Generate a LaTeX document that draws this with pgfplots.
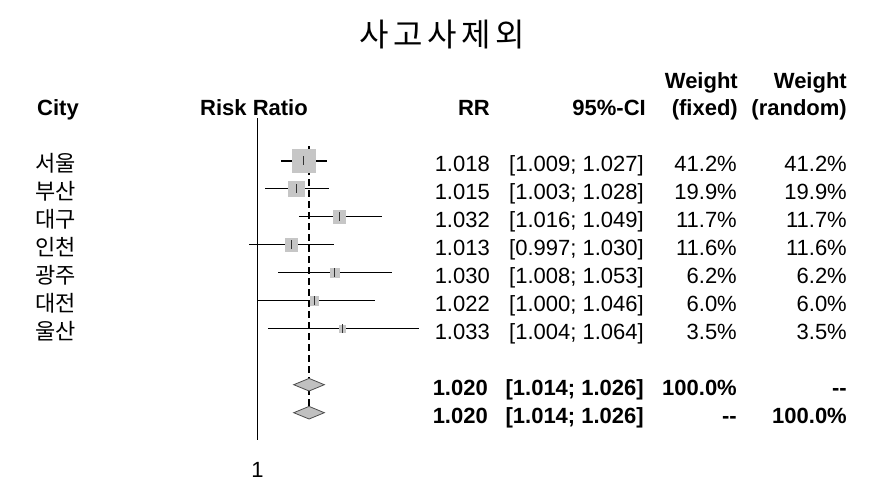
\documentclass[border=0pt]{standalone}
\usepackage{fontspec}
\setmainfont{Liberation Sans}
\newfontfamily\kr{Noto Sans CJK KR}
\newfontfamily\krtitle[LetterSpace=14]{Noto Sans CJK KR}
\usepackage{pgfplots}
\usepackage{pgfplotstable}
\pgfplotsset{compat=1.18}
\definecolor{boxgray}{HTML}{C6C6C6}
\definecolor{diafill}{HTML}{C0C0C0}
\definecolor{diadraw}{HTML}{4D4D4D}

% row, estimate, 95% CI, weight (%)
\pgfplotstableread{
row rr    lo    hi    w
1   1.018 1.009 1.027 41.2
2   1.015 1.003 1.028 19.9
3   1.032 1.016 1.049 11.7
4   1.013 0.997 1.030 11.6
5   1.030 1.008 1.053 6.2
6   1.022 1.000 1.046 6.0
7   1.033 1.004 1.064 3.5
}\studies

\newcommand\f{\fontsize{22}{26}\selectfont}

\begin{document}
\begin{tikzpicture}
\path[use as bounding box] (0pt,0pt) rectangle (870pt,-496pt);
\begin{axis}[
    at={(335pt,-279pt)}, anchor=center,
    scale only axis, width=190pt, height=322pt,
    xmode=log, xmin=0.993396, xmax=1.06838,
    y dir=reverse, ymin=-0.525, ymax=10.975,
    axis line style={draw=none},
    major tick length=0pt, minor tick length=0pt,
    xtick={1}, xticklabels={1}, ytick=\empty,
    xticklabel style={font=\f, yshift=-19pt},
    clip=false,
]
% study boxes, side ~ sqrt(weight)
\addplot[scatter, only marks, mark=square*,
    scatter/use mapped color={draw=boxgray, fill=boxgray},
    visualization depends on={\thisrow{w} \as \wt},
    scatter/@pre marker code/.append style={/tikz/mark size={1.79*sqrt(\wt)}}]
    table[x=rr, y=row] {\studies};

% confidence intervals
\addplot[black, line width=1.8pt] coordinates {(1.009,1)(1.027,1)};
\addplot[black, line width=1.2pt] coordinates {(1.003,2)(1.028,2)};
\addplot[black, line width=1.2pt] coordinates {(1.016,3)(1.049,3)};
\addplot[black, line width=1.2pt] coordinates {(0.997,4)(1.030,4)};
\addplot[black, line width=1.2pt] coordinates {(1.008,5)(1.053,5)};
\addplot[black, line width=1.2pt] coordinates {(1.000,6)(1.046,6)};
\addplot[black, line width=1.2pt] coordinates {(1.004,7)(1.064,7)};

% reference lines
\addplot[black, line width=1.5pt] coordinates {(1,-0.525)(1,10.975)};
\addplot[black, line width=1.5pt, dash pattern=on 7pt off 4pt]
    coordinates {(1.020,0.475)(1.020,10.23)};

% point estimates
\addplot[only marks, mark=|, mark size=4.5pt,
    mark options={line width=1.1pt, draw=black!80}]
    table[x=rr, y=row] {\studies};

% pooled estimates (fixed, random)
\addplot[fill=diafill, draw=diadraw, line width=0.8pt]
    coordinates {(1.014,9)(1.020,8.775)(1.026,9)(1.020,9.225)} -- cycle;
\addplot[fill=diafill, draw=diadraw, line width=0.8pt]
    coordinates {(1.014,10)(1.020,9.775)(1.026,10)(1.020,10.225)} -- cycle;
\end{axis}

\begin{scope}[every node/.style={inner sep=0pt, font=\f}]
\node[anchor=base, font=\krtitle\fontsize{32}{36}\selectfont] at (442pt,-46pt) {사고사제외};

\node[anchor=base west] at (37pt,-115pt) {\bfseries City};
\node[anchor=base west] at (200pt,-115pt) {\bfseries Risk Ratio};
\node[anchor=base east] at (490pt,-115pt) {\bfseries RR};
\node[anchor=base east] at (646pt,-115pt) {\bfseries 95\%-CI};
\node[anchor=base east] at (738pt,-88pt) {\bfseries Weight};
\node[anchor=base east] at (738pt,-115pt) {\bfseries (fixed)};
\node[anchor=base east] at (847pt,-88pt) {\bfseries Weight};
\node[anchor=base east] at (847pt,-115pt) {\bfseries (random)};

\foreach \k/\city/\rr/\ci/\wt in {
    1/서울/1.018/{[1.009; 1.027]}/41.2,
    2/부산/1.015/{[1.003; 1.028]}/19.9,
    3/대구/1.032/{[1.016; 1.049]}/11.7,
    4/인천/1.013/{[0.997; 1.030]}/11.6,
    5/광주/1.030/{[1.008; 1.053]}/6.2,
    6/대전/1.022/{[1.000; 1.046]}/6.0,
    7/울산/1.033/{[1.004; 1.064]}/3.5} {
  \pgfmathsetmacro\yy{-171.5-28*(\k-1)}
  \node[anchor=base west, font=\kr\f] at (35pt,\yy pt) {\city};
  \node[anchor=base east] at (490pt,\yy pt) {\rr};
  \node[anchor=base east] at (644pt,\yy pt) {\ci};
  \node[anchor=base east] at (737pt,\yy pt) {\wt\%};
  \node[anchor=base east] at (847pt,\yy pt) {\wt\%};
}

\node[anchor=base east] at (488pt,-395.5pt) {\bfseries 1.020};
\node[anchor=base east] at (644pt,-395.5pt) {\bfseries [1.014; 1.026]};
\node[anchor=base east] at (737pt,-395.5pt) {\bfseries 100.0\%};
\node[anchor=base east] at (847pt,-395.5pt) {\bfseries -{}-};
\node[anchor=base east] at (488pt,-423.5pt) {\bfseries 1.020};
\node[anchor=base east] at (644pt,-423.5pt) {\bfseries [1.014; 1.026]};
\node[anchor=base east] at (737pt,-423.5pt) {\bfseries -{}-};
\node[anchor=base east] at (847pt,-423.5pt) {\bfseries 100.0\%};
\end{scope}
\end{tikzpicture}
\end{document}
